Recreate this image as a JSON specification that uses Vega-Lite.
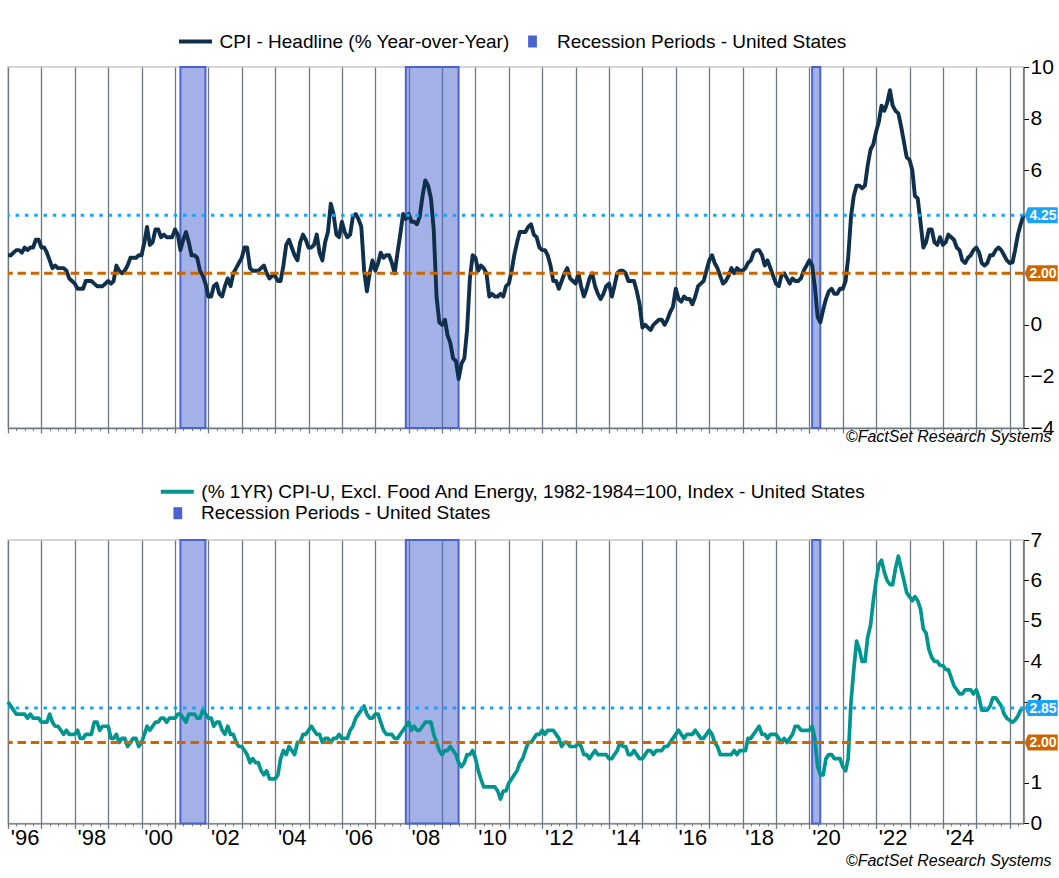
{
  "$schema": "https://vega.github.io/schema/vega-lite/v6.json",
  "background": "white",
  "padding": {"left": 5, "top": 22, "right": 0, "bottom": 0},
  "config": {
    "view": {"stroke": "#c8c8c8", "strokeWidth": 1.5},
    "axis": {"labelFont": "Liberation Sans", "labelColor": "#000000", "title": null},
    "axisY": {"grid": false},
    "legend": {"labelFont": "Liberation Sans", "labelFontSize": 19, "labelColor": "#000000", "labelLimit": 1000, "padding": 0, "title": null, "symbolOpacity": 1},
    "title": {"font": "Liberation Sans", "fontSize": 16, "fontStyle": "italic", "fontWeight": "normal", "color": "#000000"}
  },
  "datasets": {
    "cpi": [
      {"d":"1996-01","h":2.7,"c":3.0},{"d":"1996-02","h":2.7,"c":2.9},{"d":"1996-03","h":2.8,"c":2.8},{"d":"1996-04","h":2.9,"c":2.7},{"d":"1996-05","h":2.9,"c":2.7},{"d":"1996-06","h":2.8,"c":2.7},{"d":"1996-07","h":3.0,"c":2.7},{"d":"1996-08","h":2.9,"c":2.6},{"d":"1996-09","h":3.0,"c":2.7},{"d":"1996-10","h":3.0,"c":2.6},{"d":"1996-11","h":3.3,"c":2.6},{"d":"1996-12","h":3.3,"c":2.6},
      {"d":"1997-01","h":3.0,"c":2.5},{"d":"1997-02","h":3.0,"c":2.5},{"d":"1997-03","h":2.8,"c":2.5},{"d":"1997-04","h":2.5,"c":2.7},{"d":"1997-05","h":2.2,"c":2.5},{"d":"1997-06","h":2.3,"c":2.4},{"d":"1997-07","h":2.2,"c":2.4},{"d":"1997-08","h":2.2,"c":2.3},{"d":"1997-09","h":2.2,"c":2.2},{"d":"1997-10","h":2.1,"c":2.3},{"d":"1997-11","h":1.8,"c":2.2},{"d":"1997-12","h":1.7,"c":2.2},
      {"d":"1998-01","h":1.6,"c":2.2},{"d":"1998-02","h":1.4,"c":2.3},{"d":"1998-03","h":1.4,"c":2.1},{"d":"1998-04","h":1.4,"c":2.1},{"d":"1998-05","h":1.7,"c":2.2},{"d":"1998-06","h":1.7,"c":2.2},{"d":"1998-07","h":1.7,"c":2.2},{"d":"1998-08","h":1.6,"c":2.5},{"d":"1998-09","h":1.5,"c":2.5},{"d":"1998-10","h":1.5,"c":2.3},{"d":"1998-11","h":1.5,"c":2.4},{"d":"1998-12","h":1.6,"c":2.4},
      {"d":"1999-01","h":1.7,"c":2.4},{"d":"1999-02","h":1.6,"c":2.1},{"d":"1999-03","h":1.7,"c":2.1},{"d":"1999-04","h":2.3,"c":2.2},{"d":"1999-05","h":2.1,"c":2.0},{"d":"1999-06","h":2.0,"c":2.1},{"d":"1999-07","h":2.1,"c":2.1},{"d":"1999-08","h":2.3,"c":1.9},{"d":"1999-09","h":2.6,"c":2.0},{"d":"1999-10","h":2.6,"c":2.1},{"d":"1999-11","h":2.6,"c":2.1},{"d":"1999-12","h":2.7,"c":1.9},
      {"d":"2000-01","h":2.7,"c":2.0},{"d":"2000-02","h":3.2,"c":2.2},{"d":"2000-03","h":3.8,"c":2.4},{"d":"2000-04","h":3.1,"c":2.3},{"d":"2000-05","h":3.2,"c":2.4},{"d":"2000-06","h":3.7,"c":2.5},{"d":"2000-07","h":3.7,"c":2.5},{"d":"2000-08","h":3.4,"c":2.6},{"d":"2000-09","h":3.5,"c":2.6},{"d":"2000-10","h":3.4,"c":2.5},{"d":"2000-11","h":3.4,"c":2.6},{"d":"2000-12","h":3.4,"c":2.6},
      {"d":"2001-01","h":3.7,"c":2.6},{"d":"2001-02","h":3.5,"c":2.7},{"d":"2001-03","h":2.9,"c":2.7},{"d":"2001-04","h":3.3,"c":2.6},{"d":"2001-05","h":3.6,"c":2.5},{"d":"2001-06","h":3.2,"c":2.7},{"d":"2001-07","h":2.7,"c":2.7},{"d":"2001-08","h":2.7,"c":2.7},{"d":"2001-09","h":2.6,"c":2.6},{"d":"2001-10","h":2.1,"c":2.6},{"d":"2001-11","h":1.9,"c":2.8},{"d":"2001-12","h":1.6,"c":2.7},
      {"d":"2002-01","h":1.1,"c":2.6},{"d":"2002-02","h":1.1,"c":2.6},{"d":"2002-03","h":1.5,"c":2.4},{"d":"2002-04","h":1.6,"c":2.5},{"d":"2002-05","h":1.2,"c":2.5},{"d":"2002-06","h":1.1,"c":2.3},{"d":"2002-07","h":1.5,"c":2.2},{"d":"2002-08","h":1.8,"c":2.4},{"d":"2002-09","h":1.5,"c":2.2},{"d":"2002-10","h":2.0,"c":2.2},{"d":"2002-11","h":2.2,"c":2.0},{"d":"2002-12","h":2.4,"c":1.9},
      {"d":"2003-01","h":2.6,"c":1.9},{"d":"2003-02","h":3.0,"c":1.8},{"d":"2003-03","h":3.0,"c":1.7},{"d":"2003-04","h":2.2,"c":1.5},{"d":"2003-05","h":2.1,"c":1.6},{"d":"2003-06","h":2.1,"c":1.5},{"d":"2003-07","h":2.1,"c":1.5},{"d":"2003-08","h":2.2,"c":1.3},{"d":"2003-09","h":2.3,"c":1.2},{"d":"2003-10","h":2.0,"c":1.3},{"d":"2003-11","h":1.8,"c":1.1},{"d":"2003-12","h":1.9,"c":1.1},
      {"d":"2004-01","h":1.9,"c":1.1},{"d":"2004-02","h":1.7,"c":1.2},{"d":"2004-03","h":1.7,"c":1.6},{"d":"2004-04","h":2.3,"c":1.8},{"d":"2004-05","h":3.1,"c":1.7},{"d":"2004-06","h":3.3,"c":1.9},{"d":"2004-07","h":3.0,"c":1.8},{"d":"2004-08","h":2.7,"c":1.7},{"d":"2004-09","h":2.5,"c":2.0},{"d":"2004-10","h":3.2,"c":2.0},{"d":"2004-11","h":3.5,"c":2.2},{"d":"2004-12","h":3.3,"c":2.2},
      {"d":"2005-01","h":3.0,"c":2.3},{"d":"2005-02","h":3.0,"c":2.4},{"d":"2005-03","h":3.1,"c":2.3},{"d":"2005-04","h":3.5,"c":2.2},{"d":"2005-05","h":2.8,"c":2.2},{"d":"2005-06","h":2.5,"c":2.0},{"d":"2005-07","h":3.2,"c":2.1},{"d":"2005-08","h":3.6,"c":2.1},{"d":"2005-09","h":4.7,"c":2.0},{"d":"2005-10","h":4.3,"c":2.1},{"d":"2005-11","h":3.5,"c":2.1},{"d":"2005-12","h":3.4,"c":2.2},
      {"d":"2006-01","h":4.0,"c":2.1},{"d":"2006-02","h":3.6,"c":2.1},{"d":"2006-03","h":3.4,"c":2.1},{"d":"2006-04","h":3.5,"c":2.3},{"d":"2006-05","h":4.2,"c":2.4},{"d":"2006-06","h":4.3,"c":2.6},{"d":"2006-07","h":4.1,"c":2.7},{"d":"2006-08","h":3.8,"c":2.8},{"d":"2006-09","h":2.1,"c":2.9},{"d":"2006-10","h":1.3,"c":2.7},{"d":"2006-11","h":2.0,"c":2.6},{"d":"2006-12","h":2.5,"c":2.6},
      {"d":"2007-01","h":2.1,"c":2.7},{"d":"2007-02","h":2.4,"c":2.7},{"d":"2007-03","h":2.8,"c":2.5},{"d":"2007-04","h":2.6,"c":2.3},{"d":"2007-05","h":2.7,"c":2.2},{"d":"2007-06","h":2.7,"c":2.2},{"d":"2007-07","h":2.4,"c":2.2},{"d":"2007-08","h":2.0,"c":2.1},{"d":"2007-09","h":2.8,"c":2.1},{"d":"2007-10","h":3.5,"c":2.2},{"d":"2007-11","h":4.3,"c":2.3},{"d":"2007-12","h":4.1,"c":2.4},
      {"d":"2008-01","h":4.3,"c":2.5},{"d":"2008-02","h":4.0,"c":2.3},{"d":"2008-03","h":4.0,"c":2.4},{"d":"2008-04","h":3.9,"c":2.3},{"d":"2008-05","h":4.2,"c":2.3},{"d":"2008-06","h":5.0,"c":2.4},{"d":"2008-07","h":5.6,"c":2.5},{"d":"2008-08","h":5.4,"c":2.5},{"d":"2008-09","h":4.9,"c":2.5},{"d":"2008-10","h":3.7,"c":2.2},{"d":"2008-11","h":1.1,"c":2.0},{"d":"2008-12","h":0.1,"c":1.8},
      {"d":"2009-01","h":0.0,"c":1.7},{"d":"2009-02","h":0.2,"c":1.8},{"d":"2009-03","h":-0.4,"c":1.8},{"d":"2009-04","h":-0.7,"c":1.9},{"d":"2009-05","h":-1.3,"c":1.8},{"d":"2009-06","h":-1.4,"c":1.7},{"d":"2009-07","h":-2.1,"c":1.5},{"d":"2009-08","h":-1.5,"c":1.4},{"d":"2009-09","h":-1.3,"c":1.5},{"d":"2009-10","h":-0.2,"c":1.7},{"d":"2009-11","h":1.8,"c":1.7},{"d":"2009-12","h":2.7,"c":1.8},
      {"d":"2010-01","h":2.6,"c":1.6},{"d":"2010-02","h":2.1,"c":1.3},{"d":"2010-03","h":2.3,"c":1.1},{"d":"2010-04","h":2.2,"c":0.9},{"d":"2010-05","h":2.0,"c":0.9},{"d":"2010-06","h":1.1,"c":0.9},{"d":"2010-07","h":1.2,"c":0.9},{"d":"2010-08","h":1.1,"c":0.9},{"d":"2010-09","h":1.1,"c":0.8},{"d":"2010-10","h":1.2,"c":0.6},{"d":"2010-11","h":1.1,"c":0.8},{"d":"2010-12","h":1.5,"c":0.8},
      {"d":"2011-01","h":1.6,"c":1.0},{"d":"2011-02","h":2.1,"c":1.1},{"d":"2011-03","h":2.7,"c":1.2},{"d":"2011-04","h":3.2,"c":1.3},{"d":"2011-05","h":3.6,"c":1.5},{"d":"2011-06","h":3.6,"c":1.6},{"d":"2011-07","h":3.6,"c":1.8},{"d":"2011-08","h":3.8,"c":2.0},{"d":"2011-09","h":3.9,"c":2.0},{"d":"2011-10","h":3.5,"c":2.1},{"d":"2011-11","h":3.4,"c":2.2},{"d":"2011-12","h":3.0,"c":2.2},
      {"d":"2012-01","h":2.9,"c":2.3},{"d":"2012-02","h":2.9,"c":2.2},{"d":"2012-03","h":2.7,"c":2.3},{"d":"2012-04","h":2.3,"c":2.3},{"d":"2012-05","h":1.7,"c":2.3},{"d":"2012-06","h":1.7,"c":2.2},{"d":"2012-07","h":1.4,"c":2.1},{"d":"2012-08","h":1.7,"c":1.9},{"d":"2012-09","h":2.0,"c":2.0},{"d":"2012-10","h":2.2,"c":2.0},{"d":"2012-11","h":1.8,"c":1.9},{"d":"2012-12","h":1.7,"c":1.9},
      {"d":"2013-01","h":1.6,"c":1.9},{"d":"2013-02","h":2.0,"c":2.0},{"d":"2013-03","h":1.5,"c":1.9},{"d":"2013-04","h":1.1,"c":1.7},{"d":"2013-05","h":1.4,"c":1.7},{"d":"2013-06","h":1.8,"c":1.6},{"d":"2013-07","h":2.0,"c":1.7},{"d":"2013-08","h":1.5,"c":1.8},{"d":"2013-09","h":1.2,"c":1.7},{"d":"2013-10","h":1.0,"c":1.7},{"d":"2013-11","h":1.2,"c":1.7},{"d":"2013-12","h":1.5,"c":1.7},
      {"d":"2014-01","h":1.6,"c":1.6},{"d":"2014-02","h":1.1,"c":1.6},{"d":"2014-03","h":1.5,"c":1.7},{"d":"2014-04","h":2.0,"c":1.8},{"d":"2014-05","h":2.1,"c":2.0},{"d":"2014-06","h":2.1,"c":1.9},{"d":"2014-07","h":2.0,"c":1.9},{"d":"2014-08","h":1.7,"c":1.7},{"d":"2014-09","h":1.7,"c":1.7},{"d":"2014-10","h":1.7,"c":1.8},{"d":"2014-11","h":1.3,"c":1.7},{"d":"2014-12","h":0.8,"c":1.6},
      {"d":"2015-01","h":-0.1,"c":1.6},{"d":"2015-02","h":0.0,"c":1.7},{"d":"2015-03","h":-0.1,"c":1.8},{"d":"2015-04","h":-0.2,"c":1.8},{"d":"2015-05","h":0.0,"c":1.7},{"d":"2015-06","h":0.1,"c":1.8},{"d":"2015-07","h":0.2,"c":1.8},{"d":"2015-08","h":0.2,"c":1.8},{"d":"2015-09","h":0.0,"c":1.9},{"d":"2015-10","h":0.2,"c":1.9},{"d":"2015-11","h":0.5,"c":2.0},{"d":"2015-12","h":0.7,"c":2.1},
      {"d":"2016-01","h":1.4,"c":2.2},{"d":"2016-02","h":1.0,"c":2.3},{"d":"2016-03","h":0.9,"c":2.2},{"d":"2016-04","h":1.1,"c":2.1},{"d":"2016-05","h":1.0,"c":2.2},{"d":"2016-06","h":1.0,"c":2.2},{"d":"2016-07","h":0.8,"c":2.2},{"d":"2016-08","h":1.1,"c":2.3},{"d":"2016-09","h":1.5,"c":2.2},{"d":"2016-10","h":1.6,"c":2.1},{"d":"2016-11","h":1.7,"c":2.1},{"d":"2016-12","h":2.1,"c":2.2},
      {"d":"2017-01","h":2.5,"c":2.3},{"d":"2017-02","h":2.7,"c":2.2},{"d":"2017-03","h":2.4,"c":2.0},{"d":"2017-04","h":2.2,"c":1.9},{"d":"2017-05","h":1.9,"c":1.7},{"d":"2017-06","h":1.6,"c":1.7},{"d":"2017-07","h":1.7,"c":1.7},{"d":"2017-08","h":1.9,"c":1.7},{"d":"2017-09","h":2.2,"c":1.7},{"d":"2017-10","h":2.0,"c":1.8},{"d":"2017-11","h":2.2,"c":1.7},{"d":"2017-12","h":2.1,"c":1.8},
      {"d":"2018-01","h":2.1,"c":1.8},{"d":"2018-02","h":2.2,"c":1.8},{"d":"2018-03","h":2.4,"c":2.1},{"d":"2018-04","h":2.5,"c":2.1},{"d":"2018-05","h":2.8,"c":2.2},{"d":"2018-06","h":2.9,"c":2.3},{"d":"2018-07","h":2.9,"c":2.4},{"d":"2018-08","h":2.7,"c":2.2},{"d":"2018-09","h":2.3,"c":2.2},{"d":"2018-10","h":2.5,"c":2.1},{"d":"2018-11","h":2.2,"c":2.2},{"d":"2018-12","h":1.9,"c":2.2},
      {"d":"2019-01","h":1.6,"c":2.2},{"d":"2019-02","h":1.5,"c":2.1},{"d":"2019-03","h":1.9,"c":2.0},{"d":"2019-04","h":2.0,"c":2.1},{"d":"2019-05","h":1.8,"c":2.0},{"d":"2019-06","h":1.6,"c":2.1},{"d":"2019-07","h":1.8,"c":2.2},{"d":"2019-08","h":1.7,"c":2.4},{"d":"2019-09","h":1.7,"c":2.4},{"d":"2019-10","h":1.8,"c":2.3},{"d":"2019-11","h":2.1,"c":2.3},{"d":"2019-12","h":2.3,"c":2.3},
      {"d":"2020-01","h":2.5,"c":2.3},{"d":"2020-02","h":2.3,"c":2.4},{"d":"2020-03","h":1.5,"c":2.1},{"d":"2020-04","h":0.3,"c":1.4},{"d":"2020-05","h":0.1,"c":1.2},{"d":"2020-06","h":0.6,"c":1.2},{"d":"2020-07","h":1.0,"c":1.6},{"d":"2020-08","h":1.3,"c":1.7},{"d":"2020-09","h":1.4,"c":1.7},{"d":"2020-10","h":1.2,"c":1.6},{"d":"2020-11","h":1.2,"c":1.6},{"d":"2020-12","h":1.4,"c":1.6},
      {"d":"2021-01","h":1.4,"c":1.4},{"d":"2021-02","h":1.7,"c":1.3},{"d":"2021-03","h":2.6,"c":1.6},{"d":"2021-04","h":4.2,"c":3.0},{"d":"2021-05","h":5.0,"c":3.8},{"d":"2021-06","h":5.4,"c":4.5},{"d":"2021-07","h":5.4,"c":4.3},{"d":"2021-08","h":5.3,"c":4.0},{"d":"2021-09","h":5.4,"c":4.0},{"d":"2021-10","h":6.2,"c":4.6},{"d":"2021-11","h":6.8,"c":4.9},{"d":"2021-12","h":7.0,"c":5.5},
      {"d":"2022-01","h":7.5,"c":6.0},{"d":"2022-02","h":7.9,"c":6.4},{"d":"2022-03","h":8.5,"c":6.5},{"d":"2022-04","h":8.3,"c":6.2},{"d":"2022-05","h":8.6,"c":6.0},{"d":"2022-06","h":9.1,"c":5.9},{"d":"2022-07","h":8.5,"c":5.9},{"d":"2022-08","h":8.3,"c":6.3},{"d":"2022-09","h":8.2,"c":6.6},{"d":"2022-10","h":7.7,"c":6.3},{"d":"2022-11","h":7.1,"c":6.0},{"d":"2022-12","h":6.5,"c":5.7},
      {"d":"2023-01","h":6.4,"c":5.6},{"d":"2023-02","h":6.0,"c":5.5},{"d":"2023-03","h":5.0,"c":5.6},{"d":"2023-04","h":4.9,"c":5.5},{"d":"2023-05","h":4.0,"c":5.3},{"d":"2023-06","h":3.0,"c":4.8},{"d":"2023-07","h":3.2,"c":4.7},{"d":"2023-08","h":3.7,"c":4.3},{"d":"2023-09","h":3.7,"c":4.1},{"d":"2023-10","h":3.2,"c":4.0},{"d":"2023-11","h":3.1,"c":4.0},{"d":"2023-12","h":3.4,"c":3.9},
      {"d":"2024-01","h":3.1,"c":3.9},{"d":"2024-02","h":3.2,"c":3.8},{"d":"2024-03","h":3.5,"c":3.8},{"d":"2024-04","h":3.4,"c":3.6},{"d":"2024-05","h":3.3,"c":3.4},{"d":"2024-06","h":3.0,"c":3.3},{"d":"2024-07","h":2.9,"c":3.2},{"d":"2024-08","h":2.5,"c":3.2},{"d":"2024-09","h":2.4,"c":3.3},{"d":"2024-10","h":2.6,"c":3.3},{"d":"2024-11","h":2.7,"c":3.3},{"d":"2024-12","h":2.9,"c":3.2},
      {"d":"2025-01","h":3.0,"c":3.3},{"d":"2025-02","h":2.8,"c":3.1},{"d":"2025-03","h":2.4,"c":2.8},{"d":"2025-04","h":2.3,"c":2.8},{"d":"2025-05","h":2.4,"c":2.8},{"d":"2025-06","h":2.7,"c":2.9},{"d":"2025-07","h":2.7,"c":3.1},{"d":"2025-08","h":2.9,"c":3.1},{"d":"2025-09","h":3.0,"c":3.0},{"d":"2025-10","h":2.9,"c":2.9},{"d":"2025-11","h":2.7,"c":2.7},{"d":"2025-12","h":2.5,"c":2.6},
      {"d":"2026-01","h":2.4,"c":2.55},{"d":"2026-02","h":2.42,"c":2.5},{"d":"2026-03","h":2.9,"c":2.55},{"d":"2026-04","h":3.5,"c":2.65},{"d":"2026-05","h":3.9,"c":2.8},{"d":"2026-06","h":4.25,"c":2.85}
    ],
    "rec": [
      {"s":"2001-03-01","e":"2001-11-30"},
      {"s":"2007-12-01","e":"2009-06-30"},
      {"s":"2020-02-01","e":"2020-04-30"}
    ],
    "lab1": [
      {"d":"2026-06","v":4.25,"k":"last"},
      {"d":"2026-06","v":2.0,"k":"target"}
    ],
    "lab2": [
      {"d":"2026-06","v":2.85,"k":"last"},
      {"d":"2026-06","v":2.0,"k":"target"}
    ]
  },
  "vconcat": [
    {
      "width": 1015.5,
      "height": 361,
      "title": {"text": "©FactSet Research Systems", "orient": "bottom", "anchor": "end", "frame": "group", "dx": 28, "offset": -9},
      "layer": [
        {
          "data": {"name": "rec"},
          "mark": {"type": "rect", "fillOpacity": 0.5, "stroke": "#4a63d0", "strokeWidth": 2},
          "encoding": {
            "x": {"field": "s", "type": "temporal", "title": null,
                  "scale": {"domain": [{"year": 1996, "month": 1, "date": 1}, {"year": 2026, "month": 6, "date": 1}]},
                  "axis": {"orient": "bottom", "tickCount": {"interval": "year", "step": 1}, "grid": true, "gridColor": "#6e7880", "gridWidth": 1.3, "gridOpacity": 1, "ticks": true, "tickSize": 5, "tickColor": "#6e7880", "tickWidth": 1.3, "labels": false, "domain": true, "domainColor": "#6e7880", "domainWidth": 1.3}},
            "x2": {"field": "e"},
            "fill": {"datum": "Recession Periods - United States", "type": "nominal", "scale": {"range": ["#4a63d0"]},
                     "legend": {"orient": "none", "legendX": 515, "legendY": -35, "symbolType": "M-0.73,-1L0.73,-1L0.73,1L-0.73,1Z", "symbolSize": 144, "symbolStrokeWidth": 0, "labelOffset": 15,
                                "encode": {"symbols": {"update": {"fillOpacity": {"value": 1}, "strokeWidth": {"value": 0}}}}}}
          }
        },
        {
          "data": {"name": "cpi"},
          "mark": {"type": "line", "strokeWidth": 3.9, "strokeJoin": "round"},
          "encoding": {
            "x": {"field": "d", "type": "temporal", "axis": null},
            "y": {"field": "h", "type": "quantitative", "title": null, "scale": {"domain": [-4, 10], "nice": false, "zero": false},
                  "axis": {"orient": "right", "values": [-4, -2, 0, 6, 8, 10], "grid": false, "labelFontSize": 21, "labelPadding": 1.5, "tickSize": 5, "tickColor": "#000000", "domainColor": "#555555", "domainWidth": 1.3, "labelFlush": false, "labelOverlap": false}},
            "stroke": {"datum": "CPI - Headline (% Year-over-Year)", "type": "nominal", "scale": {"range": ["#0f2f4b"]},
                       "legend": {"orient": "none", "legendX": 169, "legendY": -44, "symbolType": "stroke", "symbolSize": 1089, "symbolStrokeWidth": 4, "labelOffset": 5.5}}
          }
        },
        {
          "data": {"name": "lab1"},
          "mark": {"type": "rule", "strokeWidth": 3},
          "encoding": {
            "y": {"field": "v", "type": "quantitative", "title": null},
            "color": {"field": "k", "type": "nominal", "scale": {"domain": ["last", "target"], "range": ["#1aa3f7", "#cc6600"]}, "legend": null},
            "strokeDash": {"field": "k", "type": "nominal", "scale": {"domain": ["last", "target"], "range": [[3.5, 5.8], [8.5, 4.8]]}, "legend": null}
          }
        },
        {
          "data": {"name": "lab1"},
          "mark": {"type": "point", "shape": "M-1,0L-0.8,-0.485L1,-0.485L1,0.485L-0.8,0.485Z", "size": 1089, "filled": true, "opacity": 1, "strokeWidth": 0, "xOffset": 17.7},
          "encoding": {
            "x": {"field": "d", "type": "temporal", "title": null,
                  "axis": {"orient": "bottom", "tickCount": {"interval": "month", "step": 3}, "grid": false, "ticks": true, "tickSize": 2.5, "tickColor": "#6e7880", "tickWidth": 1, "labels": false, "domain": false}},
            "y": {"field": "v", "type": "quantitative", "title": null},
            "color": {"field": "k", "type": "nominal", "scale": {"domain": ["last", "target"], "range": ["#1aa3f7", "#cc6600"]}, "legend": null}
          }
        },
        {
          "data": {"name": "lab1"},
          "mark": {"type": "text", "color": "#ffffff", "font": "Liberation Sans Narrow, Liberation Sans", "fontSize": 14, "fontWeight": "bold", "align": "center", "baseline": "middle", "xOffset": 19.5, "yOffset": 0.5},
          "encoding": {
            "x": {"field": "d", "type": "temporal", "axis": null},
            "y": {"field": "v", "type": "quantitative", "title": null},
            "text": {"field": "v", "type": "quantitative", "format": ".2f"}
          }
        }
      ],
      "resolve": {"axis": {"x": "independent"}}
    },
    {
      "width": 1015.5,
      "height": 283.4,
      "title": {"text": "©FactSet Research Systems", "orient": "bottom", "anchor": "end", "frame": "group", "dx": 28, "offset": 4.5},
      "layer": [
        {
          "data": {"name": "rec"},
          "mark": {"type": "rect", "fillOpacity": 0.5, "stroke": "#4a63d0", "strokeWidth": 2},
          "encoding": {
            "x": {"field": "s", "type": "temporal", "title": null,
                  "scale": {"domain": [{"year": 1996, "month": 1, "date": 1}, {"year": 2026, "month": 6, "date": 1}]},
                  "axis": {"orient": "bottom", "tickCount": {"interval": "year", "step": 1}, "grid": true, "gridColor": "#6e7880", "gridWidth": 1.3, "gridOpacity": 1, "ticks": true, "tickSize": 5, "tickColor": "#6e7880", "tickWidth": 1.3, "labels": false, "domain": true, "domainColor": "#6e7880", "domainWidth": 1.3}},
            "x2": {"field": "e"},
            "fill": {"datum": "Recession Periods - United States", "type": "nominal", "scale": {"range": ["#4a63d0"]},
                     "legend": {"orient": "none", "legendX": 160.3, "legendY": -36.3, "symbolType": "M-0.73,-1L0.73,-1L0.73,1L-0.73,1Z", "symbolSize": 144, "symbolStrokeWidth": 0, "labelOffset": 13.7,
                                "encode": {"symbols": {"update": {"fillOpacity": {"value": 1}, "strokeWidth": {"value": 0}}}}}}
          }
        },
        {
          "data": {"name": "cpi"},
          "mark": {"type": "line", "strokeWidth": 3.7, "strokeJoin": "round"},
          "encoding": {
            "x": {"field": "d", "type": "temporal", "title": null,
                  "axis": {"orient": "bottom", "values": [{"year": 1996, "month": 7, "date": 1}, {"year": 1998, "month": 7, "date": 1}, {"year": 2000, "month": 7, "date": 1}, {"year": 2002, "month": 7, "date": 1}, {"year": 2004, "month": 7, "date": 1}, {"year": 2006, "month": 7, "date": 1}, {"year": 2008, "month": 7, "date": 1}, {"year": 2010, "month": 7, "date": 1}, {"year": 2012, "month": 7, "date": 1}, {"year": 2014, "month": 7, "date": 1}, {"year": 2016, "month": 7, "date": 1}, {"year": 2018, "month": 7, "date": 1}, {"year": 2020, "month": 7, "date": 1}, {"year": 2022, "month": 7, "date": 1}, {"year": 2024, "month": 7, "date": 1}],
                           "format": "'%y", "ticks": false, "tickSize": 0, "grid": false, "domain": false, "labelFontSize": 22, "labelPadding": 4, "labelFlush": false, "labelOverlap": false}},
            "y": {"field": "c", "type": "quantitative", "title": null, "scale": {"domain": [0, 7], "nice": false},
                  "axis": {"orient": "right", "values": [0, 1, 3, 4, 5, 6, 7], "grid": false, "labelFontSize": 21, "labelPadding": 1.5, "tickSize": 5, "tickColor": "#000000", "domainColor": "#555555", "domainWidth": 1.3, "labelFlush": false, "labelOverlap": false}},
            "stroke": {"datum": "(% 1YR) CPI-U, Excl. Food And Energy, 1982-1984=100, Index - United States", "type": "nominal", "scale": {"range": ["#00968f"]},
                       "legend": {"orient": "none", "legendX": 150.8, "legendY": -66.8, "symbolType": "stroke", "symbolSize": 1089, "symbolStrokeWidth": 4, "labelOffset": 5.5}}
          }
        },
        {
          "data": {"name": "lab2"},
          "mark": {"type": "rule", "strokeWidth": 3},
          "encoding": {
            "y": {"field": "v", "type": "quantitative", "title": null},
            "color": {"field": "k", "type": "nominal", "scale": {"domain": ["last", "target"], "range": ["#1aa3f7", "#cc6600"]}, "legend": null},
            "strokeDash": {"field": "k", "type": "nominal", "scale": {"domain": ["last", "target"], "range": [[3.5, 5.8], [8.5, 4.8]]}, "legend": null}
          }
        },
        {
          "data": {"name": "lab2"},
          "mark": {"type": "point", "shape": "M-1,0L-0.8,-0.485L1,-0.485L1,0.485L-0.8,0.485Z", "size": 1089, "filled": true, "opacity": 1, "strokeWidth": 0, "xOffset": 17.7},
          "encoding": {
            "x": {"field": "d", "type": "temporal", "title": null,
                  "axis": {"orient": "bottom", "tickCount": {"interval": "month", "step": 3}, "grid": false, "ticks": true, "tickSize": 2.5, "tickColor": "#6e7880", "tickWidth": 1, "labels": false, "domain": false}},
            "y": {"field": "v", "type": "quantitative", "title": null},
            "color": {"field": "k", "type": "nominal", "scale": {"domain": ["last", "target"], "range": ["#1aa3f7", "#cc6600"]}, "legend": null}
          }
        },
        {
          "data": {"name": "lab2"},
          "mark": {"type": "text", "color": "#ffffff", "font": "Liberation Sans Narrow, Liberation Sans", "fontSize": 14, "fontWeight": "bold", "align": "center", "baseline": "middle", "xOffset": 19.5, "yOffset": 0.5},
          "encoding": {
            "x": {"field": "d", "type": "temporal", "axis": null},
            "y": {"field": "v", "type": "quantitative", "title": null},
            "text": {"field": "v", "type": "quantitative", "format": ".2f"}
          }
        }
      ],
      "resolve": {"axis": {"x": "independent"}}
    }
  ],
  "spacing": 112,
  "bounds": "flush",
  "resolve": {"scale": {"stroke": "independent", "fill": "independent"}}
}
